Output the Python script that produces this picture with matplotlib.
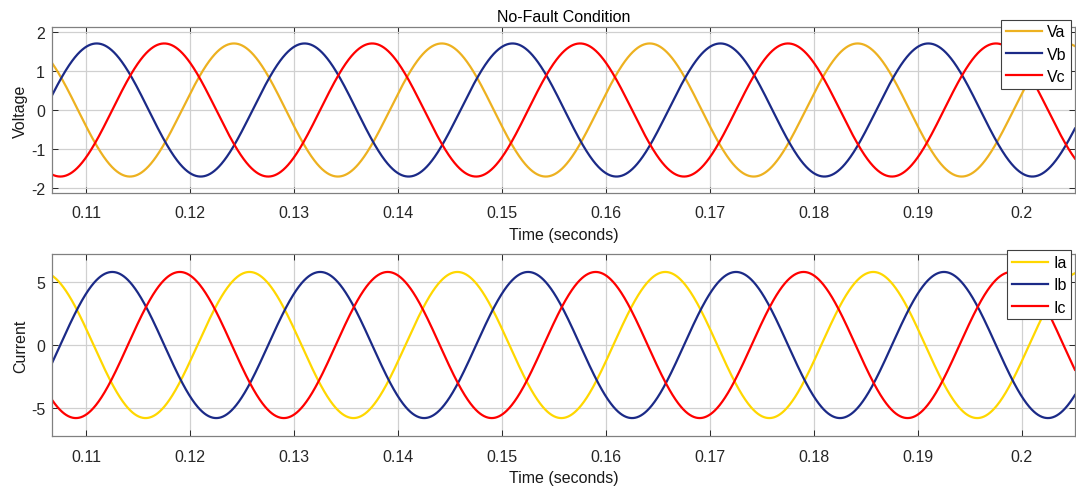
import numpy as np
import matplotlib.pyplot as plt

plt.rcParams['font.family'] = ['Liberation Sans', 'DejaVu Sans']

# waveform parameters
freq_hz = 50.0
t_start, t_end = 0.1067, 0.2051
v_amp = 1.70
v_peak_times = [0.1242, 0.1110, 0.1175]   # Va, Vb, Vc first peak (s)
i_amp = 5.78
i_peak_times = [0.1257, 0.1125, 0.1190]   # Ia, Ib, Ic first peak (s)

v_labels = ['Va', 'Vb', 'Vc']
i_labels = ['Ia', 'Ib', 'Ic']
v_colors = ['#EDB120', '#1B2A87', '#FF0000']
i_colors = ['#FFD700', '#1B2A87', '#FF0000']
xticks = [0.11, 0.12, 0.13, 0.14, 0.15, 0.16, 0.17, 0.18, 0.19, 0.2]

t = np.linspace(t_start, t_end, 3000)

fig = plt.figure(figsize=(10.76, 4.89), dpi=100)
ax1 = fig.add_axes([0.0483, 0.6033, 0.9507, 0.3394])
ax2 = fig.add_axes([0.0483, 0.1063, 0.9507, 0.3722])


def style(ax, ylim, yticks, ylabel):
    ax.set_xlim(t_start, t_end)
    ax.set_ylim(*ylim)
    ax.set_xticks(xticks)
    ax.set_xticklabels([f'{x:g}' for x in xticks])
    ax.set_yticks(yticks)
    ax.set_yticklabels([f'{y:g}' for y in yticks])
    ax.grid(True, color='#d0d0d0', linewidth=0.9)
    ax.set_axisbelow(True)
    ax.tick_params(direction='in', top=True, right=True, labelsize=11.5,
                   colors='#262626', length=4, width=0.7)
    ax.tick_params(axis='x', pad=9)
    ax.tick_params(axis='y', pad=5)
    for s in ax.spines.values():
        s.set_color('#808080')
        s.set_linewidth(0.9)
    ax.set_xlabel('Time (seconds)', fontsize=11.5, color='#1a1a1a', labelpad=5)
    ax.set_ylabel(ylabel, fontsize=11.5, color='#1a1a1a', labelpad=2)


for lab, tp, c in zip(v_labels, v_peak_times, v_colors):
    ax1.plot(t, v_amp * np.cos(2 * np.pi * freq_hz * (t - tp)), color=c,
             linewidth=1.6, label=lab)
for lab, tp, c in zip(i_labels, i_peak_times, i_colors):
    ax2.plot(t, i_amp * np.cos(2 * np.pi * freq_hz * (t - tp)), color=c,
             linewidth=1.6, label=lab)

style(ax1, (-2.12, 2.12), [-2, -1, 0, 1, 2], 'Voltage')
style(ax2, (-7.2, 7.2), [-5, 0, 5], 'Current')
ax1.set_title('No-Fault Condition', fontsize=11.5, pad=4)

for ax, anchor in ((ax1, (0.9965, 1.045)), (ax2, (0.9965, 1.02))):
    leg = ax.legend(loc='upper right', bbox_to_anchor=anchor, fontsize=11.5,
                    handlelength=2.3, handletextpad=0.3, borderpad=0.3,
                    labelspacing=0.45, fancybox=False, framealpha=1,
                    borderaxespad=0)
    leg.get_frame().set_edgecolor('#404040')
    leg.get_frame().set_linewidth(0.8)

fig.savefig('out.png', dpi=100)
